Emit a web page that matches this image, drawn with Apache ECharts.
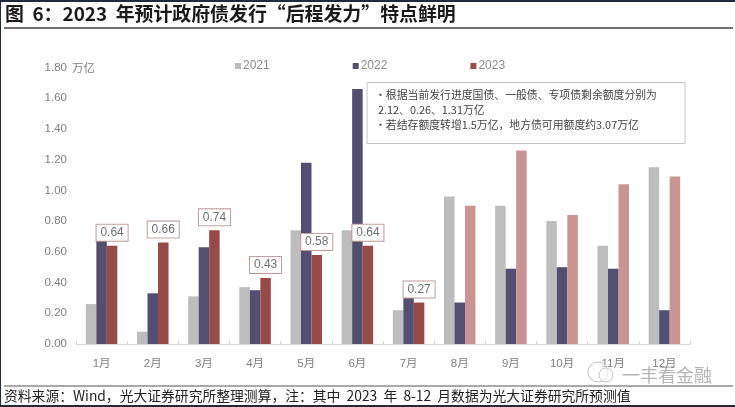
<!DOCTYPE html>
<html>
<head>
<meta charset="utf-8">
<script src="https://cdn.jsdelivr.net/npm/echarts@6/dist/echarts.min.js"></script>
<style>
html, body { margin: 0; padding: 0; background: #fff; }
#main { width: 735px; height: 407px; }
</style>
</head>
<body>
<div id="main"></div>
<script>
var months = ['1月', '2月', '3月', '4月', '5月', '6月', '7月', '8月', '9月', '10月', '11月', '12月'];
var y2021 = [0.26, 0.08, 0.31, 0.37, 0.74, 0.74, 0.22, 0.96, 0.90, 0.80, 0.64, 1.15];
var y2022 = [0.68, 0.33, 0.63, 0.35, 1.18, 1.66, 0.30, 0.27, 0.49, 0.50, 0.49, 0.22];
var y2023 = [0.64, 0.66, 0.74, 0.43, 0.58, 0.64, 0.27, 0.90, 1.26, 0.84, 1.04, 1.09];
var actualCount = 7; // 8-12月 are forecasts, drawn lighter

var cjk = '"Liberation Sans", "Noto Sans CJK SC", sans-serif';
var dark = '#1f2a3a';

var myChart = echarts.init(document.getElementById('main'));

var option = {
  animation: false,
  backgroundColor: '#fff',
  textStyle: { fontFamily: cjk },
  grid: { left: 76, right: 45, top: 67.5, bottom: 63 },
  legend: {
    left: 235,
    top: 60,
    padding: 0,
    itemWidth: 6,
    itemHeight: 6,
    itemGap: 83,
    icon: 'rect',
    textStyle: { color: '#8a8a8a', fontSize: 12, padding: [0, 0, 0, -3] },
    data: ['2021', '2022', '2023']
  },
  xAxis: {
    type: 'category',
    data: months,
    axisLine: { lineStyle: { color: '#d9d9d9', width: 1 } },
    axisTick: { show: true, length: 3, inside: true, alignWithLabel: false, lineStyle: { color: '#d9d9d9' } },
    axisLabel: { color: '#7f7f7f', fontSize: 11.5, margin: 14 }
  },
  yAxis: {
    type: 'value',
    min: 0,
    max: 1.8,
    interval: 0.2,
    axisLine: { show: false },
    axisTick: { show: false },
    splitLine: { show: false },
    axisLabel: {
      color: '#7f7f7f',
      fontSize: 11.5,
      margin: 9,
      formatter: function (v) { return v.toFixed(2); }
    }
  },
  series: [
    { name: '2021', type: 'bar', data: y2021, barWidth: 10.5, barGap: 0, itemStyle: { color: '#bdbdbd' } },
    { name: '2022', type: 'bar', data: y2022, barWidth: 10.5, barGap: 0, itemStyle: { color: '#544e70' } },
    {
      name: '2023',
      type: 'bar',
      barWidth: 10.5,
      barGap: 0,
      itemStyle: { color: '#954b47' },
      data: y2023.map(function (v, i) {
        if (i < actualCount) {
          return {
            value: v,
            label: {
              show: true,
              position: 'top',
              distance: 5,
              formatter: function (p) { return p.value.toFixed(2); },
              color: '#6f6f6f',
              fontSize: 12,
              backgroundColor: '#fff',
              borderColor: '#bf9a98',
              borderWidth: 1,
              padding: [2, 3, 2, 3],
              width: 25,
              align: 'center'
            }
          };
        }
        return { value: v, itemStyle: { color: '#c99491' } };
      })
    }
  ],
  graphic: [
    // page frame bits from the screenshot
    { type: 'rect', shape: { x: 0, y: 0, width: 735, height: 2 }, style: { fill: dark } },
    { type: 'rect', shape: { x: 0, y: 0, width: 1, height: 407 }, style: { fill: dark } },
    { type: 'rect', shape: { x: 0, y: 405, width: 735, height: 2 }, style: { fill: dark } },
    // title
    { type: 'text', x: 5, y: 14, style: { text: '图  6：2023  年预计政府债发行“后程发力”特点鲜明', fill: '#1a1a1a', font: 'bold 18.9px "Noto Sans CJK SC", sans-serif', textVerticalAlign: 'middle' } },
    { type: 'rect', shape: { x: 4, y: 27, width: 729, height: 2 }, style: { fill: '#6f6f6f' } },
    // unit
    { type: 'text', x: 72, y: 68, style: { text: '万亿', fill: '#7f7f7f', font: '11.5px "Noto Sans CJK SC", sans-serif', textVerticalAlign: 'middle' } },
    // note box
    { type: 'rect', z: 10, shape: { x: 367, y: 82.5, width: 318, height: 61 }, style: { fill: '#fff', stroke: '#c4c4c4', lineWidth: 1 } },
    { type: 'text', z: 11, x: 375, y: 95, style: { text: '·根据当前发行进度国债、一般债、专项债剩余额度分别为', fill: '#444', font: '10.85px "Noto Sans CJK SC", sans-serif', textVerticalAlign: 'middle' } },
    { type: 'text', z: 11, x: 378, y: 110, style: { text: '2.12、0.26、1.31万亿', fill: '#444', font: '10.85px "Noto Sans CJK SC", sans-serif', textVerticalAlign: 'middle' } },
    { type: 'text', z: 11, x: 375, y: 124.5, style: { text: '·若结存额度转增1.5万亿，地方债可用额度约3.07万亿', fill: '#444', font: '10.85px "Noto Sans CJK SC", sans-serif', textVerticalAlign: 'middle' } },
    // source line
    { type: 'rect', shape: { x: 4, y: 385.5, width: 729, height: 1 }, style: { fill: '#555' } },
    { type: 'text', x: 4, y: 395.5, style: { text: '资料来源：Wind，光大证券研究所整理测算，注：其中  2023  年  8-12  月数据为光大证券研究所预测值', fill: '#222', font: '13.8px "Noto Sans CJK SC", sans-serif', textVerticalAlign: 'middle' } },
    // watermark
    { type: 'circle', z: 12, shape: { cx: 598, cy: 372, r: 10 }, style: { fill: 'rgba(255,255,255,0.5)', stroke: '#c4c4c4', lineWidth: 1 } },
    { type: 'circle', z: 12, shape: { cx: 606, cy: 375, r: 7 }, style: { fill: 'rgba(255,255,255,0.6)', stroke: '#c4c4c4', lineWidth: 1 } },
    { type: 'text', z: 12, x: 622, y: 375, style: { text: '一丰看金融', fill: 'rgba(130,130,130,0.6)', font: '18px "Noto Sans CJK SC", sans-serif', textVerticalAlign: 'middle' } }
  ]
};

myChart.setOption(option);
</script>
</body>
</html>
